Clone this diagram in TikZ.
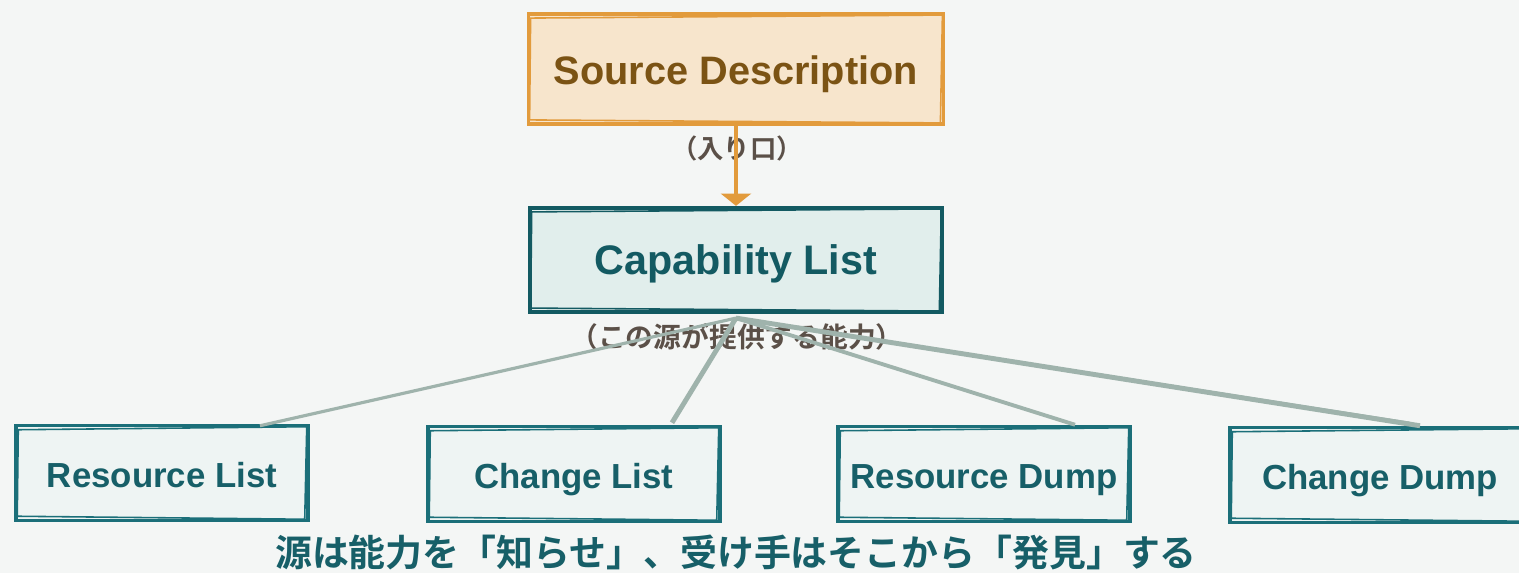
\documentclass[tikz,border=0pt]{standalone}
\usepackage{fontspec}
\setmainfont{Liberation Sans}
\newfontfamily\jpfont{Noto Sans CJK JP}[BoldFont={Noto Sans CJK JP Bold}]
\usetikzlibrary{positioning,calc,arrows.meta}

\definecolor{bgcol}{HTML}{F4F6F5}
\definecolor{srcline}{HTML}{E29B3C}
\definecolor{srcfill}{HTML}{F7E5CC}
\definecolor{srctext}{HTML}{7B5314}
\definecolor{capline}{HTML}{135A62}
\definecolor{capfill}{HTML}{E1EEEC}
\definecolor{itemline}{HTML}{1B6F79}
\definecolor{itemfill}{HTML}{EEF4F3}
\definecolor{itemtext}{HTML}{175F68}
\definecolor{linkgray}{HTML}{9FB3AC}
\definecolor{notegray}{HTML}{5B5048}

\begin{document}
\begin{tikzpicture}[
    x=0.02cm, y=-0.02cm,
    srcbox/.style={draw=srcline, fill=srcfill, line width=2.2pt,
      minimum width=8.3cm, minimum height=2.2cm, text=srctext,
      text height=18pt, text depth=0pt,
      font=\bfseries\fontsize{22.6}{26}\selectfont},
    capbox/.style={draw=capline, fill=capfill, line width=2.4pt,
      minimum width=8.25cm, minimum height=2.08cm, text=capline,
      text height=17pt, text depth=0pt,
      font=\bfseries\fontsize{23.5}{27}\selectfont},
    itembox/.style={draw=itemline, fill=itemfill, line width=2pt,
      minimum width=5.84cm, minimum height=1.9cm, text=itemtext,
      text height=17pt, text depth=0pt,
      font=\bfseries\fontsize{19.8}{23}\selectfont},
    link/.style={draw=linkgray, line width=2.2pt},
    note/.style={text=notegray, font=\jpfont\bfseries\fontsize{15}{17}\selectfont},
    sketch/.style={line width=0.9pt, line cap=round}
  ]
  \clip (0,0) rectangle (1519,573);
  \fill[bgcol] (0,0) rectangle (1519,573);

  % Boxes
  \node[srcbox] (src) at (736,69) {Source Description};
  \node[capbox] (cap) at (736,260) {Capability List};
  \node[itembox] (rl) at (162,473) {Resource List};
  \node[itembox] (cl) at (574,474) {Change List};
  \node[itembox] (rd) at (984,474) {Resource Dump};
  \node[itembox, minimum width=6cm] (cd) at (1380,475) {Change Dump};

  % Sketchy second strokes
  \foreach \n/\c in {src/srcline, cap/capline, rl/itemline, cl/itemline, rd/itemline, cd/itemline}
    \draw[sketch, draw=\c] ($(\n.north west)+(4,6)$) -- ($(\n.north east)+(-3,3)$)
      -- ($(\n.south east)+(-5,-3)$) -- ($(\n.south west)+(3,-6)$) -- cycle;

  % Notes
  \node[note] (entry) at (737,148) {（入り口）};
  \node[note, font=\jpfont\bfseries\fontsize{15.8}{18}\selectfont] (offer) at (737,337) {（この源が提供する能力）};

  % Arrow and links
  \draw[srcline, line width=2.4pt, -{Triangle[length=7pt, width=17pt]}] (src.south) -- (cap.north);
  \coordinate (hub) at ($(cap.south)+(0,4)$);
  \draw[link, line width=1.8pt] (hub) -- ($(rl.north)+(98,2)$);
  \draw[link, line width=2.8pt] (hub) -- ($(cl.north)+(98,-2)$);
  \draw[link, line width=2.2pt] (hub) -- ($(rd.north)+(91,0)$);
  \draw[link, line width=2.8pt] (hub) -- ($(cd.north)+(40,0)$);
  \draw[link, line width=1.2pt] (hub) -- ($(cd.north)+(30,-3)$);

  % Caption
  \node[text=itemtext, font=\jpfont\bfseries\fontsize{21}{24}\selectfont] (caption) at (736,552)
    {源は能力を「知らせ」、受け手はそこから「発見」する};
\end{tikzpicture}
\end{document}
